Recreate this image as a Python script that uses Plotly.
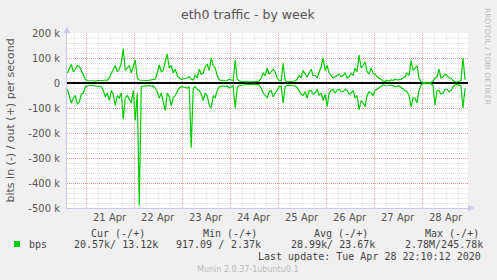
import plotly.graph_objects as go
import pandas as pd

# ---------------- data (kbit/s), hourly samples ----------------
start_time = "2020-04-20 14:30"
out_k = [40, 60, 75, 45, 55, 70, 65, 50, 30, 15,
         10, 9, 8, 9, 8, 10, 9, 10, 10, 12,
         11, 20, 40, 55, 70, 45, 55, 80, 138, 50,
         60, 70, 40, 65, 92, 20, 12, 11, 12, 10,
         10, 11, 12, 13, 15, 40, 72, 45, 50, 85,
         116, 60, 70, 40, 55, 30, 20, 15, 15, 18,
         20, 25, 15, 12, 30, 20, 55, 35, 40, 65,
         75, 50, 100, 70, 60, 30, 12, 10, 8, 9,
         10, 15, 12, 10, 92, 15, 8, 6, 5, 5,
         5, 6, 6, 5, 5, 6, 8, 20, 40, 30,
         60, 35, 45, 55, 45, 20, 10, 8, 80, 10,
         5, 5, 8, 6, 8, 15, 30, 20, 50, 35,
         25, 40, 55, 30, 30, 20, 40, 65, 100, 50,
         70, 40, 30, 20, 25, 30, 35, 25, 30, 40,
         20, 25, 40, 30, 60, 45, 112, 60, 70, 85,
         45, 35, 60, 40, 35, 25, 20, 12, 8, 6,
         10, 8, 12, 10, 15, 12, 12, 15, 20, 25,
         40, 30, 90, 50, 60, 70, 20, 5, 2, 2,
         2, 3, 3, 8, 20, 25, 55, 20, 25, 35,
         30, 20, 20, 10, 5, 4, 8, 10, 100, 13]
in_k = [25, 50, 80, 60, 50, 85, 75, 45, 40, 15,
        12, 10, 10, 11, 10, 12, 12, 15, 30, 55,
        40, 70, 30, 45, 90, 50, 60, 40, 145, 60,
        50, 65, 80, 30, 150, 40, 490, 15, 12, 11,
        12, 10, 13, 12, 20, 35, 60, 40, 75, 110,
        40, 55, 90, 60, 50, 35, 20, 15, 15, 18,
        20, 15, 259, 20, 15, 25, 30, 45, 70, 40,
        50, 90, 100, 50, 60, 30, 15, 12, 12, 14,
        12, 20, 15, 12, 100, 20, 10, 8, 8, 7,
        6, 5, 5, 5, 5, 6, 8, 20, 40, 50,
        60, 35, 30, 55, 40, 25, 15, 12, 80, 15,
        10, 9, 10, 11, 12, 18, 30, 45, 50, 35,
        60, 30, 30, 45, 40, 25, 50, 40, 70, 45,
        95, 40, 30, 25, 40, 30, 25, 35, 35, 25,
        30, 45, 40, 30, 60, 50, 108, 70, 80, 95,
        50, 35, 40, 50, 30, 25, 20, 12, 8, 9,
        10, 8, 12, 10, 15, 12, 12, 18, 25, 30,
        35, 50, 95, 60, 60, 80, 30, 8, 2, 2,
        2, 3, 3, 10, 88, 30, 30, 45, 40, 25,
        25, 35, 30, 15, 8, 6, 10, 12, 100, 21]

day_labels = ["21 Apr", "22 Apr", "23 Apr", "24 Apr", "25 Apr", "26 Apr", "27 Apr", "28 Apr"]
y_tick_vals = [200000, 100000, 0, -100000, -200000, -300000, -400000, -500000]
y_tick_text = ["200 k", "100 k", "0", "-100 k", "-200 k", "-300 k", "-400 k", "-500 k"]

headers = ["Cur (-/+)", "Min (-/+)", "Avg (-/+)", "Max (-/+)"]
cur_vals = "20.57k/ 13.12k"
min_in, min_out = "917.09 /", "2.37k"
avg_vals = "28.99k/ 23.67k"
max_vals = "2.78M/245.78k"

times = pd.date_range(start_time, periods=len(out_k), freq="1h")
out_bps = [v * 1000 for v in out_k]
in_bps = [-v * 1000 for v in in_k]

GREEN = "#00CC00"
W, H = 497, 280
L, R, T, B = 67, 29, 33, 72
PW, PH = W - L - R, H - T - B


def px(x):
    return (x - L) / PW


def py(y):
    return (H - B - y) / PH


fig = go.Figure()
fig.add_trace(go.Scatter(x=times, y=in_bps, mode="lines",
                         line=dict(color=GREEN, width=1.2), hoverinfo="skip"))
fig.add_trace(go.Scatter(x=times, y=out_bps, mode="lines",
                         line=dict(color=GREEN, width=1.2), hoverinfo="skip"))

MAJ = "rgba(230,110,110,0.65)"
MIN = "rgba(200,200,200,0.6)"
AXC = "#C8C8F0"

fig.update_layout(
    width=W, height=H,
    margin=dict(l=L, r=R, t=T, b=B),
    paper_bgcolor="#F0F0F0", plot_bgcolor="#FFFFFF",
    showlegend=False,
    font=dict(family="DejaVu Sans", size=10, color="#555555"),
    xaxis=dict(
        type="date", range=["2020-04-20 14:20", "2020-04-28 23:00"],
        tickmode="linear", tick0="2020-04-21", dtick=86400000,
        showticklabels=False, ticks="",
        showgrid=True, gridcolor=MAJ, griddash="1px,1px", gridwidth=1,
        minor=dict(dtick=6 * 3600000, tick0="2020-04-21", showgrid=True,
                   gridcolor=MIN, griddash="1px,1px", gridwidth=1),
        showline=True, linecolor=AXC, linewidth=1,
        zeroline=False, fixedrange=True,
    ),
    yaxis=dict(
        range=[-500000, 200000],
        tickmode="array", tickvals=y_tick_vals, ticktext=y_tick_text,
        tickfont=dict(family="DejaVu Sans", size=10, color="#555555"),
        ticks="", ticklabelstandoff=4,
        showgrid=True, gridcolor=MAJ, griddash="1px,1px", gridwidth=1,
        minor=dict(tickmode="linear", tick0=0, dtick=20000, showgrid=True,
                   gridcolor=MIN, griddash="1px,1px", gridwidth=1),
        zeroline=True, zerolinecolor="#000000", zerolinewidth=1.5,
        showline=True, linecolor=AXC, linewidth=1,
        fixedrange=True,
    ),
)

ann = []
ann.append(dict(text="eth0 traffic - by week", x=px(248), y=py(14), xref="paper", yref="paper",
                showarrow=False, xanchor="center", yanchor="middle",
                font=dict(family="DejaVu Sans", size=12.5, color="#555555")))
ann.append(dict(text="bits in (-) / out (+) per second", x=px(10), y=py(120.5), xref="paper",
                yref="paper", showarrow=False, textangle=-90, xanchor="center", yanchor="middle",
                font=dict(family="DejaVu Sans", size=11, color="#555555")))
ann.append(dict(text="RRDTOOL / TOBI OETIKER", x=px(488), y=py(56), xref="paper", yref="paper",
                showarrow=False, textangle=90, xanchor="center", yanchor="middle",
                font=dict(family="DejaVu Sans", size=7.5, color="#BBBBBB")))
for i, lab in enumerate(day_labels):
    t = pd.Timestamp("2020-04-21 12:00") + pd.Timedelta(days=i)
    ann.append(dict(text=lab, x=t, y=py(217.5), xref="x", yref="paper", showarrow=False,
                    xanchor="center", yanchor="middle",
                    font=dict(family="DejaVu Sans", size=10, color="#555555")))

mono = dict(family="DejaVu Sans Mono", size=10, color="#444444")
for hx, h in zip([89, 201, 312, 423], headers):
    ann.append(dict(text=h, x=px(hx), y=py(233), xref="paper", yref="paper", showarrow=False,
                    xanchor="left", yanchor="middle", font=mono))
row_y = py(244)
for x0, txt, anchor in [(27, "bps", "left"), (72, cur_vals, "left"), (174, min_in, "left"),
                        (263, min_out, "right"), (289, avg_vals, "left"), (403, max_vals, "left")]:
    ann.append(dict(text=txt, x=px(x0), y=row_y, xref="paper", yref="paper", showarrow=False,
                    xanchor=anchor, yanchor="middle", font=mono))
ann.append(dict(text="Last update: Tue Apr 28 22:10:12 2020", x=px(483), y=py(256), xref="paper",
                yref="paper", showarrow=False, xanchor="right", yanchor="middle", font=mono))
ann.append(dict(text="Munin 2.0.37-1ubuntu0.1", x=px(248), y=py(269), xref="paper", yref="paper",
                showarrow=False, xanchor="center", yanchor="middle",
                font=dict(family="DejaVu Sans", size=8, color="#BBBBBB")))
fig.update_layout(annotations=ann)

shapes = []
shapes.append(dict(type="rect", xref="paper", yref="paper", x0=px(14), x1=px(20),
                   y0=py(247), y1=py(241), fillcolor=GREEN, line=dict(width=0)))
shapes.append(dict(type="path", xref="paper", yref="paper",
                   path=f"M {px(63.5)} {py(33)} L {px(70.5)} {py(33)} L {px(67)} {py(27)} Z",
                   fillcolor=AXC, line=dict(width=0)))
shapes.append(dict(type="path", xref="paper", yref="paper",
                   path=f"M {px(468)} {py(204.5)} L {px(468)} {py(211.5)} L {px(474)} {py(208)} Z",
                   fillcolor=AXC, line=dict(width=0)))
fig.update_layout(shapes=shapes)

fig.write_html("out.html")
